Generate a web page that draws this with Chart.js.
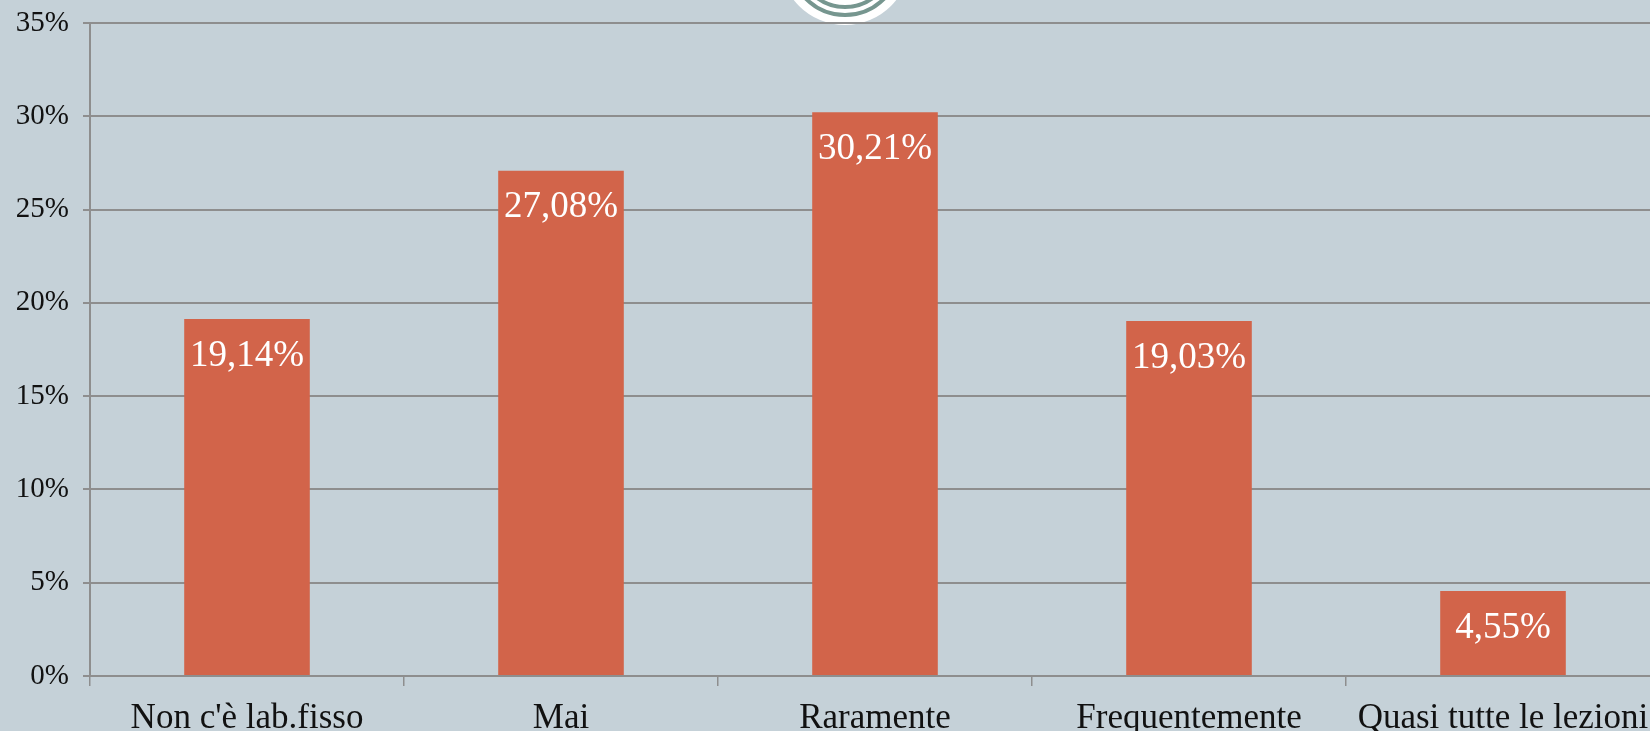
<!DOCTYPE html>
<html>
<head>
<meta charset="utf-8">
<script src="https://cdn.jsdelivr.net/npm/chart.js@4"></script>
<style>
    html, body { margin: 0; padding: 0; overflow: hidden; background: #c5d1d8; }
    #wrap { position: absolute; left: 0; top: 0; width: 1660px; height: 731px; }
</style>
</head>
<body>
<div id="wrap"><canvas id="chart"></canvas></div>
<script>
// Chart data
const categories = ["Non c'è lab.fisso", 'Mai', 'Raramente', 'Frequentemente', 'Quasi tutte le lezioni'];
const percentages = [19.14, 27.08, 30.21, 19.03, 4.55];
const valueLabels = ['19,14%', '27,08%', '30,21%', '19,03%', '4,55%'];

const gridColor = '#8e8e8e';
const fontFamily = '"Liberation Serif", "DejaVu Serif", serif';

// White badge peeking in at the top (decoration)
const badgePlugin = {
    id: 'badge',
    beforeDraw(chart) {
        const ctx = chart.ctx;
        ctx.save();
        ctx.fillStyle = '#ffffff';
        ctx.beginPath();
        ctx.arc(845, -40, 65, 0, Math.PI * 2);
        ctx.fill();
        ctx.strokeStyle = '#76968f';
        ctx.lineWidth = 4;
        [55, 47].forEach(r => {
            ctx.beginPath();
            ctx.arc(845, -40, r, 0, Math.PI * 2);
            ctx.stroke();
        });
        ctx.restore();
    }
};

// Value labels inside the top of each bar
const valueLabelPlugin = {
    id: 'valueLabels',
    afterDatasetsDraw(chart) {
        const ctx = chart.ctx;
        const meta = chart.getDatasetMeta(0);
        ctx.save();
        ctx.fillStyle = '#ffffff';
        ctx.font = '37px ' + fontFamily;
        ctx.textAlign = 'center';
        ctx.textBaseline = 'middle';
        meta.data.forEach((bar, i) => {
            ctx.fillText(valueLabels[i], bar.x, bar.y + 37);
        });
        ctx.restore();
    }
};

new Chart(document.getElementById('chart'), {
    type: 'bar',
    data: {
        labels: categories,
        datasets: [{
            data: percentages,
            backgroundColor: '#d2644a',
            borderWidth: 0,
            barPercentage: 0.4,
            categoryPercentage: 1
        }]
    },
    options: {
        responsive: true,
        maintainAspectRatio: false,
        animation: false,
        layout: { padding: { top: 23, right: 0, bottom: 0, left: 0 } },
        plugins: {
            legend: { display: false },
            tooltip: { enabled: false }
        },
        scales: {
            y: {
                min: 0,
                max: 35,
                afterFit(scale) {
                    scale.width = 90;
                    scale.paddingTop = 0;
                    scale.paddingBottom = 0;
                },
                border: { display: true, color: gridColor, width: 2 },
                grid: {
                    color: gridColor,
                    lineWidth: 2,
                    drawTicks: true,
                    tickLength: 7,
                    tickColor: gridColor
                },
                ticks: {
                    stepSize: 5,
                    padding: 14,
                    color: '#111111',
                    font: { family: fontFamily, size: 29 },
                    callback: v => v + '%'
                }
            },
            x: {
                afterFit(scale) {
                    scale.height = 55;
                    scale.paddingLeft = 0;
                    scale.paddingRight = 0;
                },
                border: { display: true, color: gridColor, width: 2 },
                grid: {
                    offset: true,
                    drawOnChartArea: false,
                    drawTicks: true,
                    tickLength: 10,
                    lineWidth: 1.5,
                    color: gridColor,
                    tickColor: gridColor
                },
                ticks: {
                    padding: 12,
                    maxRotation: 0,
                    autoSkip: false,
                    color: '#111111',
                    font: { family: fontFamily, size: 35 }
                }
            }
        }
    },
    plugins: [badgePlugin, valueLabelPlugin]
});
</script>
</body>
</html>
